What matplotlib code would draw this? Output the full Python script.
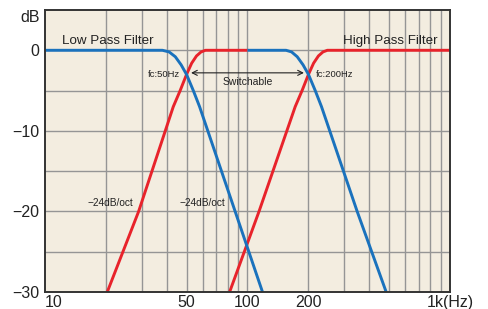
import matplotlib
matplotlib.use('Agg')
import matplotlib.pyplot as plt

# Curve points (frequency in Hz, level in dB)
lpf50_f = [10, 38, 41, 44, 47, 50, 54, 58, 86.9, 118.6]
lpf50_db = [0, 0, -0.2, -0.8, -1.8, -3.0, -5.0, -7.0, -20, -30]

hpf50_f = [20.3, 29, 43, 46.5, 50, 53, 56, 59, 62, 100]
hpf50_db = [-30, -20, -7.0, -5.0, -3.0, -1.6, -0.7, -0.2, 0, 0]

lpf200_f = [100, 155, 165, 176, 188, 200, 216, 232, 348, 484]
lpf200_db = [0, 0, -0.2, -0.8, -1.8, -3.0, -5.0, -7.0, -20, -30]

hpf200_f = [81.6, 114, 172, 186, 200, 212, 224, 236, 248, 1000]
hpf200_db = [-30, -20, -7.0, -5.0, -3.0, -1.6, -0.7, -0.2, 0, 0]

xticks = [10, 50, 100, 200, 1000]
xlabels = ['10', '50', '100', '200', '1k(Hz)']
yticks = [0, -10, -20, -30]

red = '#e8232b'
blue = '#1a72bd'
bg = '#f3ede0'

plt.rcParams['font.family'] = ['Liberation Sans', 'DejaVu Sans']

fig = plt.figure(figsize=(4.89, 3.09), dpi=100)
ax = fig.add_axes([45 / 489, 1 - 292 / 309, 405 / 489, 282 / 309])
ax.set_facecolor(bg)

ax.set_xscale('log')
ax.set_xlim(10, 1000)
ax.set_ylim(-30, 5)

# grid lines
for f in list(range(20, 100, 10)) + list(range(100, 1000, 100)):
    ax.axvline(f, color='#959595', lw=1.0, zorder=1)
for d in [-25, -20, -15, -10, -5, 0]:
    ax.axhline(d, color='#959595', lw=1.0, zorder=1)

# curves
ax.plot(hpf50_f, hpf50_db, color=red, lw=2.1, zorder=3, solid_capstyle='butt')
ax.plot(hpf200_f, hpf200_db, color=red, lw=2.1, zorder=3, solid_capstyle='butt')
ax.plot(lpf50_f, lpf50_db, color=blue, lw=2.1, zorder=4, solid_capstyle='butt')
ax.plot(lpf200_f, lpf200_db, color=blue, lw=2.1, zorder=4, solid_capstyle='butt')

# ticks
ax.minorticks_off()
ax.set_xticks(xticks)
ax.set_xticklabels(xlabels)
ax.set_yticks(yticks)
ax.tick_params(axis='y', length=0, labelsize=11.5, colors='#222222', pad=4)
ax.tick_params(axis='x', length=0, labelsize=11.5, colors='#222222', pad=2)
ax.get_xticklabels()[0].set_horizontalalignment('left')

for s in ax.spines.values():
    s.set_color('#333333')
    s.set_linewidth(1.4)
    s.set_zorder(5)

ax.text(-0.012, 1.0 - 7 / 282, 'dB', transform=ax.transAxes, ha='right', va='center',
        fontsize=11.5, color='#222222')

ax.text(12.1, 1.1, 'Low Pass Filter', fontsize=9.6, ha='left', va='center', color='#222222')
ax.text(873, 1.1, 'High Pass Filter', fontsize=9.6, ha='right', va='center', color='#222222')
ax.text(46.5, -3.0, 'fc:50Hz', fontsize=6.8, ha='right', va='center', color='#222222')
ax.text(218, -3.0, 'fc:200Hz', fontsize=6.8, ha='left', va='center', color='#222222')
ax.text(100, -3.9, 'Switchable', fontsize=7.5, ha='center', va='center', color='#222222')
ax.text(21.0, -19.0, '\u221224dB/oct', fontsize=7.3, ha='center', va='center', color='#222222')
ax.text(59.7, -19.0, '\u221224dB/oct', fontsize=7.3, ha='center', va='center', color='#222222')

ax.annotate('', xy=(51, -2.8), xytext=(196, -2.8),
            arrowprops=dict(arrowstyle='<->', lw=0.8, color='#222222', mutation_scale=9),
            zorder=6)

fig.savefig('out.png', dpi=100)
